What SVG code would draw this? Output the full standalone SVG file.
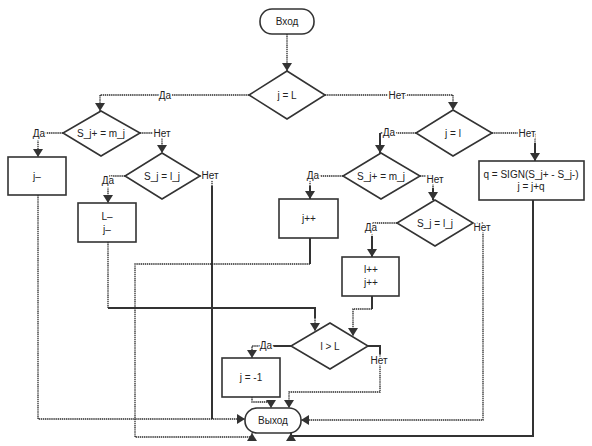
<svg xmlns="http://www.w3.org/2000/svg" width="592" height="446" viewBox="0 0 592 446">
<style>
.node{fill:#fff;stroke:#333;stroke-width:1.6}
.t{font-family:"Liberation Sans",Arial,sans-serif;font-size:10px;fill:#222;text-anchor:middle}
.lbl{font-family:"Liberation Sans",Arial,sans-serif;font-size:10px;fill:#222;text-anchor:middle;stroke:#fff;stroke-width:3;paint-order:stroke}
.dot{fill:none;stroke:#2a2a2a;stroke-width:1.3;stroke-dasharray:1.4 0.7}
.sol{fill:none;stroke:#333;stroke-width:2}
</style>
<defs>
<marker id="ar" markerUnits="userSpaceOnUse" viewBox="0 0 8 10" markerWidth="8" markerHeight="10" refX="8" refY="5" orient="auto">
<path d="M0,0 L8,5 L0,10 z" fill="#333"/>
</marker>
</defs>
<rect width="592" height="446" fill="#fff"/>
<g id="connectors">
<path class="dot" d="M287,34 L287,71" marker-end="url(#ar)"/>
<path class="dot" d="M249,95 L100,95 L100,111" marker-end="url(#ar)"/>
<path class="dot" d="M325,95 L453,95 L453,110" marker-end="url(#ar)"/>
<path class="dot" d="M63,133 L38,133 L38,157" marker-end="url(#ar)"/>
<path class="dot" d="M140,133 L162,133 L162,153" marker-end="url(#ar)"/>
<path class="dot" d="M125,176 L108,176 L108,203" marker-end="url(#ar)"/>
<path class="dot" d="M200,176 L212,176 L212,186"/>
<path class="sol" d="M212,186 L212,419"/>
<path class="dot" d="M38,195 L38,419 L245,419" marker-end="url(#ar)"/>
<path class="dot" d="M108,242 L108,308"/>
<path class="sol" d="M108,308 L315,308 L315,318"/>
<path class="dot" d="M315,318 L315,331" marker-end="url(#ar)"/>
<path class="sol" d="M310,238 L310,264"/>
<path class="dot" d="M310,264 L135,264 L135,437 L252,437 L252,433" marker-end="url(#ar)"/>
<path class="dot" d="M416,133 L380,133"/>
<path class="sol" d="M380,133 L380,153" marker-end="url(#ar)"/>
<path class="dot" d="M492,133 L535,133 L535,143"/>
<path class="sol" d="M535,143 L535,161" marker-end="url(#ar)"/>
<path class="sol" d="M533,200 L533,436 L291,436 L291,433" marker-end="url(#ar)"/>
<path class="dot" d="M343,176 L310,176 L310,186"/>
<path class="sol" d="M310,186 L310,199" marker-end="url(#ar)"/>
<path class="dot" d="M420,176 L433,176 L433,188"/>
<path class="sol" d="M433,188 L433,200" marker-end="url(#ar)"/>
<path class="dot" d="M397,223 L372,223 L372,236"/>
<path class="sol" d="M372,236 L372,257" marker-end="url(#ar)"/>
<path class="dot" d="M473,223 L483,223 L483,420 L301,420" marker-end="url(#ar)"/>
<path class="sol" d="M372,296 L372,309"/>
<path class="dot" d="M372,309 L353,309 L353,336" marker-end="url(#ar)"/>
<path class="sol" d="M291,346 L262,346"/>
<path class="dot" d="M262,346 L252,346 L252,358" marker-end="url(#ar)"/>
<path class="sol" d="M368,346 L380,346 L380,354"/>
<path class="dot" d="M380,354 L380,392 L289,392 L289,408" marker-end="url(#ar)"/>
<path class="dot" d="M252,397 L252,402 L271,402 L271,408" marker-end="url(#ar)"/>
<text class="lbl" x="165" y="99">Да</text>
<text class="lbl" x="397" y="99">Нет</text>
<text class="lbl" x="39" y="137">Да</text>
<text class="lbl" x="162" y="137">Нет</text>
<text class="lbl" x="108" y="184">Да</text>
<text class="lbl" x="210" y="179">Нет</text>
<text class="lbl" x="389" y="136">Да</text>
<text class="lbl" x="527" y="137">Нет</text>
<text class="lbl" x="313" y="179">Да</text>
<text class="lbl" x="435" y="183">Нет</text>
<text class="lbl" x="371" y="231">Да</text>
<text class="lbl" x="482" y="231">Нет</text>
<text class="lbl" x="266" y="349">Да</text>
<text class="lbl" x="379" y="364">Нет</text>
</g>
<g id="start"><rect class="node" x="260" y="9" width="54" height="25" rx="12"/><text class="t" x="287" y="25">Вход</text></g>
<g id="d1"><polygon class="node" points="287,71 325,95 287,119 249,95"/><text class="t" x="287" y="99">j = L</text></g>
<g id="d2"><polygon class="node" points="101,111 140,133 101,156 63,133"/><text class="t" x="101" y="137">S_j+ = m_j</text></g>
<g id="r1"><rect class="node" x="8" y="157" width="58" height="38"/><text class="t" x="37" y="180">j–</text></g>
<g id="d3"><polygon class="node" points="162,153 200,176 162,199 125,176"/><text class="t" x="162" y="180">S_j = l_j</text></g>
<g id="r2"><rect class="node" x="78" y="203" width="58" height="39"/><text class="t" x="107" y="220">L–</text><text class="t" x="107" y="233">j–</text></g>
<g id="d4"><polygon class="node" points="453,110 492,133 453,156 416,133"/><text class="t" x="453" y="137">j = l</text></g>
<g id="r3"><rect class="node" x="479" y="161" width="105" height="39"/><text class="t" x="531" y="178">q = SIGN(S_j+ - S_j-)</text><text class="t" x="531" y="190">j = j+q</text></g>
<g id="d5"><polygon class="node" points="381,153 420,176 381,199 343,176"/><text class="t" x="381" y="180">S_j+ = m_j</text></g>
<g id="r4"><rect class="node" x="279" y="199" width="59" height="39"/><text class="t" x="309" y="222">j++</text></g>
<g id="d6"><polygon class="node" points="435,200 473,223 435,246 397,223"/><text class="t" x="435" y="227">S_j = l_j</text></g>
<g id="r5"><rect class="node" x="342" y="257" width="57" height="39"/><text class="t" x="371" y="273">l++</text><text class="t" x="371" y="286">j++</text></g>
<g id="d7"><polygon class="node" points="330,323 368,346 330,369 291,346"/><text class="t" x="330" y="350">l &gt; L</text></g>
<g id="r6"><rect class="node" x="222" y="358" width="58" height="39"/><text class="t" x="251" y="381">j = -1</text></g>
<g id="end"><rect class="node" x="245" y="408" width="56" height="25" rx="12"/><text class="t" x="273" y="424">Выход</text></g>
</svg>
